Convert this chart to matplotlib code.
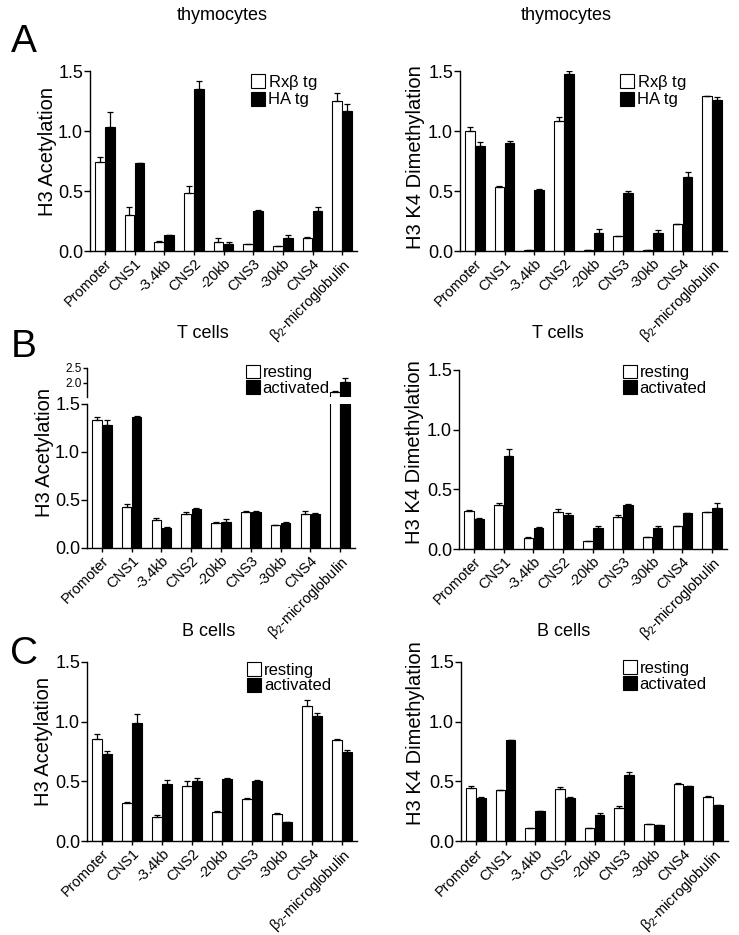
import numpy as np
import matplotlib
matplotlib.use("Agg")
from matplotlib import pyplot as plt
from matplotlib.patches import Patch

plt.rcParams['font.family'] = ['Liberation Sans', 'DejaVu Sans']
plt.rcParams['mathtext.fontset'] = 'custom'
plt.rcParams['mathtext.rm'] = 'Liberation Sans'
plt.rcParams['mathtext.it'] = 'Liberation Sans:italic'

sites = ['Promoter', 'CNS1', '-3.4kb', 'CNS2', '-20kb', 'CNS3', '-30kb', 'CNS4',
         r'$\mathrm{\beta}_2$-microglobulin']

# panel A, thymocytes (Rxb tg = white, HA tg = black)
thy_ac_rx = [0.74, 0.30, 0.072, 0.48, 0.075, 0.058, 0.039, 0.109, 1.25]
thy_ac_rx_err = [0.04, 0.07, 0.008, 0.06, 0.03, 0.004, 0.003, 0.01, 0.065]
thy_ac_ha = [1.035, 0.732, 0.134, 1.353, 0.061, 0.331, 0.111, 0.331, 1.163]
thy_ac_ha_err = [0.12, 0.005, 0.003, 0.065, 0.01, 0.01, 0.022, 0.035, 0.06]
thy_me_rx = [1.0, 0.534, 0.005, 1.083, 0.005, 0.122, 0.005, 0.223, 1.289]
thy_me_rx_err = [0.03, 0.01, 0.0, 0.03, 0.0, 0.004, 0.0, 0.004, 0.005]
thy_me_ha = [0.877, 0.896, 0.512, 1.475, 0.153, 0.484, 0.15, 0.618, 1.255]
thy_me_ha_err = [0.028, 0.018, 0.005, 0.025, 0.028, 0.015, 0.022, 0.04, 0.03]

# panel B, T cells (resting = white, activated = black)
t_ac_rest = [1.329, 0.422, 0.296, 0.349, 0.265, 0.38, 0.237, 0.352, 1.71]
t_ac_rest_err = [0.04, 0.04, 0.015, 0.03, 0.005, 0.005, 0.003, 0.03, 0.02]
t_ac_act = [1.28, 1.364, 0.213, 0.408, 0.272, 0.37, 0.258, 0.352, 2.04]
t_ac_act_err = [0.055, 0.01, 0.01, 0.005, 0.025, 0.015, 0.01, 0.01, 0.13]
t_me_rest = [0.321, 0.369, 0.095, 0.313, 0.067, 0.265, 0.1, 0.193, 0.307]
t_me_rest_err = [0.004, 0.02, 0.005, 0.02, 0.0, 0.017, 0.0, 0.003, 0.003]
t_me_act = [0.254, 0.779, 0.173, 0.288, 0.179, 0.369, 0.173, 0.304, 0.341]
t_me_act_err = [0.008, 0.055, 0.008, 0.015, 0.015, 0.01, 0.02, 0.0, 0.045]

# panel C, B cells
b_ac_rest = [0.854, 0.317, 0.20, 0.46, 0.24, 0.355, 0.225, 1.13, 0.845]
b_ac_rest_err = [0.045, 0.01, 0.02, 0.04, 0.01, 0.005, 0.01, 0.05, 0.01]
b_ac_act = [0.726, 0.985, 0.479, 0.50, 0.52, 0.505, 0.16, 1.05, 0.745]
b_ac_act_err = [0.025, 0.08, 0.028, 0.03, 0.01, 0.01, 0.0, 0.025, 0.015]
b_me_rest = [0.445, 0.425, 0.11, 0.435, 0.105, 0.28, 0.14, 0.48, 0.365]
b_me_rest_err = [0.02, 0.0, 0.0, 0.02, 0.005, 0.015, 0.0, 0.005, 0.015]
b_me_act = [0.36, 0.845, 0.25, 0.36, 0.22, 0.55, 0.13, 0.46, 0.30]
b_me_act_err = [0.01, 0.005, 0.0, 0.01, 0.015, 0.025, 0.0, 0.005, 0.0]

W, H = 739, 935
fig = plt.figure(figsize=(W / 100, H / 100), dpi=100)


def box(x0, y0, x1, y1):
    # pixel box (top-left origin) -> figure fraction rect
    return [x0 / W, 1 - y1 / H, (x1 - x0) / W, (y1 - y0) / H]


def style_ax(ax):
    for s in ['top', 'right']:
        ax.spines[s].set_visible(False)
    for s in ['left', 'bottom']:
        ax.spines[s].set_linewidth(1.0)
    ax.tick_params(direction='out', length=4, width=1.0, labelsize=13, pad=1)
    ax.tick_params(axis='x', labelsize=10.5, length=3)


def bars(ax, white, werr, black, berr):
    x = np.arange(len(sites))
    w = 0.32
    ax.bar(x - 0.17, white, w, color='white', edgecolor='black', linewidth=0.8)
    ax.bar(x + 0.17, black, w, color='black', edgecolor='black', linewidth=0.8)
    ax.errorbar(x - 0.17, white, yerr=[np.zeros(len(x)), werr], fmt='none',
                ecolor='black', elinewidth=0.9, capsize=2.5, capthick=0.9)
    ax.errorbar(x + 0.17, black, yerr=[np.zeros(len(x)), berr], fmt='none',
                ecolor='black', elinewidth=0.9, capsize=2.5, capthick=0.9)
    ax.set_xlim(-0.5, 8.5)
    return x


def add_legend(ax, labels, anchor):
    handles = [Patch(facecolor='white', edgecolor='black', linewidth=0.8),
               Patch(facecolor='black', edgecolor='black', linewidth=0.8)]
    ax.legend(handles, labels, loc='upper left', bbox_to_anchor=anchor,
              frameon=False, fontsize=12, handlelength=0.85, handleheight=0.9,
              handletextpad=0.15, labelspacing=0.0, borderaxespad=0,
              borderpad=0)


def panel(rect, white, werr, black, berr, ylabel, labels, lab_xy, leg_xy=None):
    ax = fig.add_axes(rect)
    x = bars(ax, white, werr, black, berr)
    ax.set_ylim(0, 1.5)
    ax.set_yticks([0, 0.5, 1.0, 1.5])
    ax.set_yticklabels(['0.0', '0.5', '1.0', '1.5'])
    ax.set_xticks(x)
    ax.set_xticklabels(sites, rotation=45, ha='right', rotation_mode='anchor')
    ax.set_ylabel(ylabel, fontsize=14.5)
    ax.yaxis.set_label_coords(*lab_xy)
    style_ax(ax)
    if leg_xy is not None:
        add_legend(ax, labels, leg_xy)
    return ax


rx = [r'Rx$\mathrm{\beta}$ tg', 'HA tg']
ra = ['resting', 'activated']

# A
panel(box(90, 71, 357, 251), thy_ac_rx, thy_ac_rx_err, thy_ac_ha, thy_ac_ha_err,
      'H3 Acetylation', rx, (-0.125, 0.55), (0.603, 0.99))
panel(box(460, 71, 727, 251), thy_me_rx, thy_me_rx_err, thy_me_ha, thy_me_ha_err,
      'H3 K4 Dimethylation', rx, (-0.13, 0.52), (0.599, 0.99))

# B left, broken axis
panel(box(87, 404, 355, 548), t_ac_rest, t_ac_rest_err, t_ac_act, t_ac_act_err,
      'H3 Acetylation', ra, (-0.125, 0.66))
axu = fig.add_axes(box(87, 368, 355, 397))
bars(axu, t_ac_rest, t_ac_rest_err, t_ac_act, t_ac_act_err)
axu.set_ylim(1.53, 2.5)
axu.set_yticks([2.0, 2.5])
axu.set_yticklabels(['2.0', '2.5'])
style_ax(axu)
axu.spines['bottom'].set_visible(False)
axu.tick_params(axis='x', bottom=False, labelbottom=False)
axu.tick_params(axis='y', labelsize=8.5, length=3)
add_legend(axu, ra, (0.593, 1.12))

panel(box(459, 370, 727, 549), t_me_rest, t_me_rest_err, t_me_act, t_me_act_err,
      'H3 K4 Dimethylation', ra, (-0.13, 0.54), (0.612, 1.03))

# C (moved up a couple of pixels so the long rotated label stays inside)
panel(box(87, 662, 357, 841), b_ac_rest, b_ac_rest_err, b_ac_act, b_ac_act_err,
      'H3 Acetylation', ra, (-0.125, 0.556), (0.593, 1.0))
panel(box(461, 662, 728, 841), b_me_rest, b_me_rest_err, b_me_act, b_me_act_err,
      'H3 K4 Dimethylation', ra, (-0.135, 0.605), (0.607, 1.01))

# titles and panel letters
titles = [('thymocytes', 222, 16), ('thymocytes', 566, 16),
          ('T cells', 203, 334), ('T cells', 558, 334),
          ('B cells', 209, 632), ('B cells', 564, 632)]
for t, px, py in titles:
    fig.text(px / W, 1 - py / H, t, ha='center', va='center', fontsize=13)
for letter, px, py in [('A', 24, 42), ('B', 24, 347), ('C', 24, 654)]:
    fig.text(px / W, 1 - py / H, letter, ha='center', va='center', fontsize=28)

fig.savefig('out.png', dpi=100)
